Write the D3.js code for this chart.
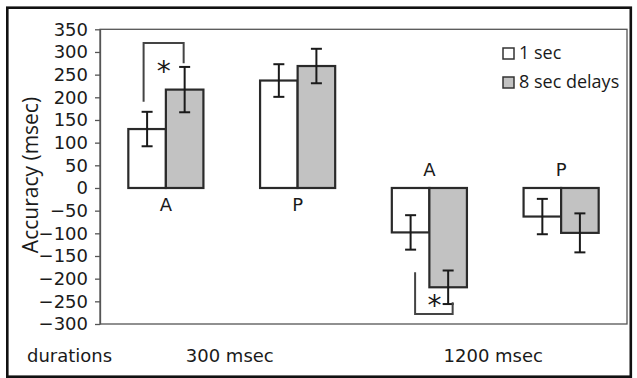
<!DOCTYPE html>
<html>
<head>
<meta charset="utf-8">
<script src="https://cdn.jsdelivr.net/npm/d3@7"></script>
<style>
  html, body { margin: 0; padding: 0; background: #fff; }
  svg { display: block; }
</style>
</head>
<body>
<svg id="chart" width="637" height="378"></svg>
<script>
// ---- data ----
const groups = ["300-A", "300-P", "1200-A", "1200-P"];
const groupLabels = ["A", "P", "A", "P"];
const durations = ["300 msec", "1200 msec"];
const series = ["1 sec", "8 sec delays"];
const oneSec = [130, 237, -98, -63];
const oneSecErr = [38, 36, 38, 39];
const eightSec = [217, 269, -219, -99];
const eightSecErr = [50, 38, 37, 43];
const yTicks = [350, 300, 250, 200, 150, 100, 50, 0, -50, -100, -150, -200, -250, -300];
// significance brackets: group, top of bracket, end of leg under 1 sec, end of leg under 8 sec, star level
const sigGroups = [0, 2];
const sigOuter = [320, -278];
const sigLeft = [190, -186];
const sigRight = [275, -252];
const sigStar = [271, -245];

// ---- layout ----
const svg = d3.select("#chart");
const plot = { left: 100, right: 627, top: 29.3, bottom: 324 };
const fill = ["#ffffff", "#c2c2c2"];
const ink = "#1a1a1a";

const y = d3.scaleLinear().domain([-300, 350]).range([plot.bottom, plot.top]);
const x0 = d3.scaleBand().domain(groups).range([plot.left, plot.right])
  .paddingInner(0.43).paddingOuter(0.215);
const x1 = d3.scaleBand().domain(series).range([0, x0.bandwidth()]);

const rows = groups.map((g, i) => ({
  g, i,
  vals: [
    { s: series[0], v: oneSec[i], e: oneSecErr[i] },
    { s: series[1], v: eightSec[i], e: eightSecErr[i] }
  ]
}));

// outer frame
svg.append("rect")
  .attr("x", 7.3).attr("y", 7.7).attr("width", 623.5).attr("height", 369)
  .attr("fill", "none").attr("stroke", "#111").attr("stroke-width", 2.6);

// plot frame
svg.append("rect")
  .attr("x", plot.left).attr("y", plot.top)
  .attr("width", plot.right - plot.left).attr("height", plot.bottom - plot.top)
  .attr("fill", "none").attr("stroke", "#555").attr("stroke-width", 1.3);

// y axis
const yAxis = d3.axisLeft(y).tickValues(yTicks).tickSize(5).tickSizeOuter(0).tickPadding(7);
const ga = svg.append("g").attr("transform", `translate(${plot.left},0)`).call(yAxis);
ga.select(".domain").attr("stroke", "#555").attr("stroke-width", 1.3);
ga.selectAll(".tick line").attr("stroke", "#555").attr("stroke-width", 1.3);
ga.selectAll(".tick text")
  .attr("font-family", "DejaVu Sans, Verdana, sans-serif")
  .attr("font-size", 18).attr("fill", ink);

// y title
svg.append("text")
  .attr("transform", `translate(38,175) rotate(-90)`)
  .attr("text-anchor", "middle")
  .attr("font-family", "Open Sans, sans-serif")
  .attr("font-size", 21).attr("fill", ink)
  .text("Accuracy (msec)");

// bars
const gg = svg.append("g").selectAll("g").data(rows).join("g")
  .attr("transform", d => `translate(${x0(d.g)},0)`);

gg.selectAll("rect").data(d => d.vals).join("rect")
  .attr("x", d => x1(d.s))
  .attr("y", d => y(Math.max(0, d.v)))
  .attr("width", x1.bandwidth())
  .attr("height", d => Math.abs(y(d.v) - y(0)))
  .attr("fill", (d, j) => fill[j])
  .attr("stroke", "#2a2a2a").attr("stroke-width", 2.2);

// error bars
const cap = 5.5;
const eb = gg.selectAll("g.err").data(d => d.vals).join("g").attr("class", "err");
eb.append("line")
  .attr("x1", d => x1(d.s) + x1.bandwidth() / 2).attr("x2", d => x1(d.s) + x1.bandwidth() / 2)
  .attr("y1", d => y(d.v + d.e)).attr("y2", d => y(d.v - d.e));
eb.append("line")
  .attr("x1", d => x1(d.s) + x1.bandwidth() / 2 - cap).attr("x2", d => x1(d.s) + x1.bandwidth() / 2 + cap)
  .attr("y1", d => y(d.v + d.e)).attr("y2", d => y(d.v + d.e));
eb.append("line")
  .attr("x1", d => x1(d.s) + x1.bandwidth() / 2 - cap).attr("x2", d => x1(d.s) + x1.bandwidth() / 2 + cap)
  .attr("y1", d => y(d.v - d.e)).attr("y2", d => y(d.v - d.e));
eb.selectAll("line").attr("stroke", ink).attr("stroke-width", 2);

// category labels
svg.append("g").selectAll("text").data(rows).join("text")
  .attr("x", d => x0(d.g) + x0.bandwidth() / 2)
  .attr("y", d => d.vals[0].v >= 0 ? y(0) + 23.5 : y(0) - 11.7)
  .attr("text-anchor", "middle")
  .attr("font-family", "DejaVu Sans, Verdana, sans-serif")
  .attr("font-size", 18).attr("fill", ink)
  .text((d, i) => groupLabels[i]);

// duration labels
svg.append("text").attr("x", 27).attr("y", 361.5)
  .attr("font-family", "DejaVu Sans, Verdana, sans-serif")
  .attr("font-size", 18).attr("fill", ink).text("durations");
svg.append("g").selectAll("text").data(durations).join("text")
  .attr("x", (d, k) => (x0(groups[2 * k]) + x0(groups[2 * k + 1]) + x0.bandwidth()) / 2 - 2)
  .attr("y", 361.5)
  .attr("text-anchor", "middle")
  .attr("font-family", "DejaVu Sans, Verdana, sans-serif")
  .attr("font-size", 18).attr("fill", ink)
  .text(d => d);

// significance brackets
sigGroups.forEach((gi, k) => {
  const off = k === 0 ? -3.5 : 4.5;
  const xl = x0(groups[gi]) + x1(series[0]) + x1.bandwidth() / 2 + off;
  const xr = x0(groups[gi]) + x1(series[1]) + x1.bandwidth() / 2 + off + (k === 0 ? 2.5 : 0);
  const path = d3.path();
  path.moveTo(xl, y(sigLeft[k]));
  path.lineTo(xl, y(sigOuter[k]));
  path.lineTo(xr, y(sigOuter[k]));
  path.lineTo(xr, y(sigRight[k]));
  svg.append("path").attr("d", path.toString())
    .attr("fill", "none").attr("stroke", "#444").attr("stroke-width", 2);
  svg.append("text")
    .attr("x", (xl + xr) / 2 + (k === 0 ? 0 : 0.5))
    .attr("y", y(sigStar[k]) + 16)
    .attr("text-anchor", "middle")
    .attr("font-family", "DejaVu Sans, Verdana, sans-serif")
    .attr("font-size", 28).attr("fill", ink)
    .text("*");
});

// legend
const lg = svg.append("g").selectAll("g").data(series).join("g")
  .attr("transform", (d, j) => `translate(503,${48 + j * 29})`);
lg.append("rect").attr("width", 11).attr("height", 11)
  .attr("fill", (d, j) => fill[j]).attr("stroke", "#333").attr("stroke-width", 1.5);
lg.append("text").attr("x", 16).attr("y", 11)
  .attr("font-family", "Open Sans, sans-serif")
  .attr("font-size", 18).attr("fill", ink)
  .text(d => d);
</script>
</body>
</html>
